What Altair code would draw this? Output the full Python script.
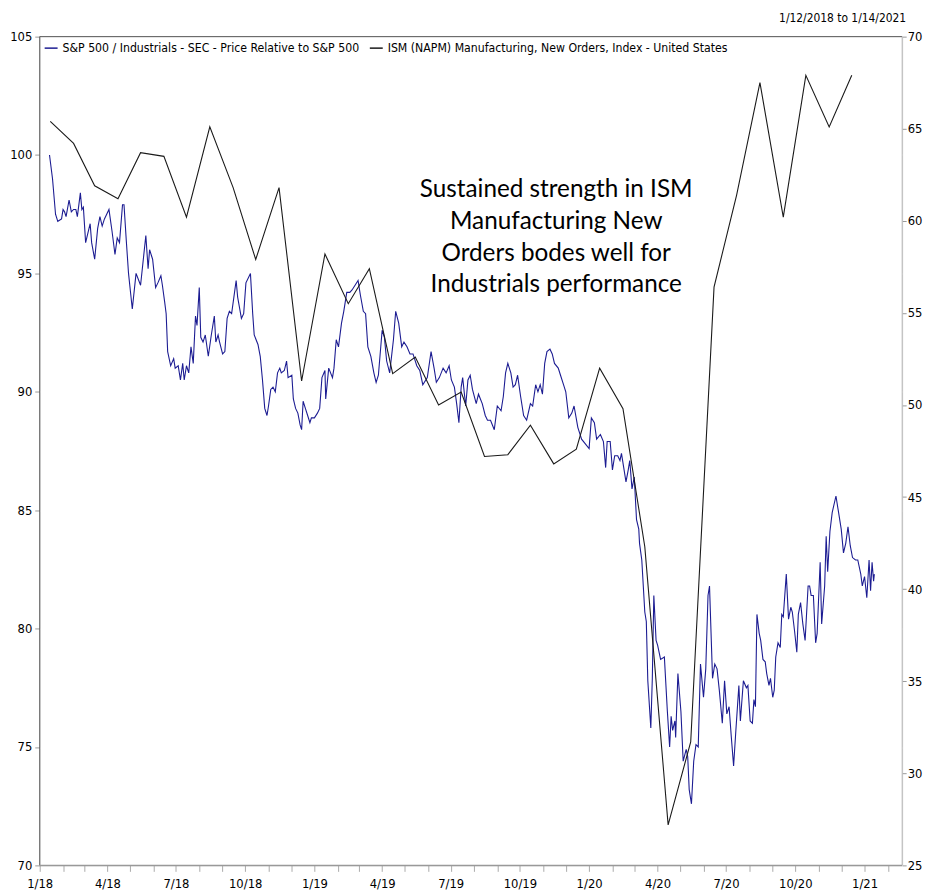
import altair as alt
import pandas as pd

IND = "S&P 500 / Industrials - SEC - Price Relative to S&P 500"
ISM = "ISM (NAPM) Manufacturing, New Orders, Index - United States"
NARROW = "Liberation Sans Narrow, Arial Narrow, DejaVu Sans Condensed, sans-serif"

# S&P 500 Industrials relative (day offset from 2018-01-01, value)
ind_points = [
    (13, 100.0), (17, 99.0), (21, 97.5), (24, 97.2), (29, 97.3), (31, 97.7), (33, 97.6), (35, 97.4),
    (39, 98.1), (42, 97.6), (45, 97.7), (48, 97.7), (50, 97.4), (54, 98.4), (56, 97.7), (58, 97.8),
    (61, 96.3), (64, 96.7), (67, 97.1), (69, 96.3), (73, 95.6), (77, 96.9), (80, 97.4), (83, 97.0),
    (86, 97.3), (89, 97.5), (92, 97.7), (96, 96.8), (100, 95.8), (103, 96.5), (106, 96.3), (110, 97.9),
    (112, 97.9), (115, 96.4), (118, 95.0), (121, 94.1), (123, 93.5), (128, 95.0), (134, 94.5), (141, 96.6),
    (144, 95.2), (146, 96.0), (150, 95.6), (154, 94.4), (157, 94.6), (161, 94.9), (163, 94.5), (166, 93.8),
    (168, 93.3), (170, 91.7), (174, 91.1), (178, 91.4), (180, 91.0), (184, 91.1), (187, 90.5), (190, 91.2),
    (192, 90.5), (195, 91.1), (198, 90.8), (201, 91.9), (204, 91.2), (207, 93.2), (209, 92.8), (212, 94.4),
    (214, 92.3), (217, 92.1), (220, 92.4), (224, 91.5), (228, 92.4), (232, 93.2), (234, 92.1), (237, 92.4),
    (239, 92.1), (243, 91.6), (246, 91.7), (249, 93.1), (252, 93.4), (255, 93.3), (258, 94.0), (261, 94.7),
    (263, 94.0), (268, 93.1), (271, 93.3), (274, 94.6), (280, 95.0), (283, 93.3), (285, 92.4), (290, 92.0),
    (293, 91.5), (296, 90.5), (299, 89.3), (302, 89.0), (304, 89.4), (307, 90.1), (310, 90.2), (313, 90.0),
    (316, 90.8), (319, 91.0), (321, 90.8), (325, 90.9), (328, 91.3), (330, 90.6), (335, 90.7), (337, 89.7),
    (340, 89.3), (343, 89.1), (346, 88.6), (348, 88.4), (350, 89.6), (353, 89.3), (356, 89.0), (359, 88.7),
    (361, 88.9), (365, 88.9), (369, 89.1), (372, 89.3), (375, 90.6), (379, 90.9), (380, 89.7), (384, 91.0),
    (389, 90.6), (391, 91.0), (394, 92.2), (397, 91.9), (401, 92.9), (404, 93.4), (408, 94.2), (412, 94.2),
    (415, 94.3), (419, 94.5), (423, 94.7), (426, 94.1), (430, 93.4), (433, 93.3), (436, 91.9), (440, 91.5),
    (444, 90.8), (447, 90.4), (450, 90.7), (455, 92.6), (458, 92.3), (461, 91.3), (465, 90.8), (470, 92.2),
    (473, 93.4), (477, 92.9), (481, 91.9), (484, 92.1), (488, 91.9), (492, 91.6), (496, 91.6), (501, 91.1),
    (505, 90.9), (509, 90.3), (515, 90.6), (520, 91.7), (524, 91.0), (527, 90.4), (531, 90.6), (536, 91.0),
    (540, 90.8), (544, 91.1), (547, 90.5), (551, 90.2), (554, 89.5), (557, 88.7), (560, 90.2), (562, 90.6),
    (566, 89.4), (569, 90.5), (572, 90.7), (575, 90.1), (580, 89.5), (583, 89.9), (588, 89.5), (592, 89.0),
    (595, 88.8), (599, 88.8), (604, 88.4), (608, 89.4), (613, 89.2), (616, 89.8), (619, 90.8), (622, 91.2),
    (626, 90.8), (629, 90.2), (632, 90.3), (635, 90.7), (639, 89.8), (643, 89.0), (647, 88.8), (652, 89.5),
    (655, 89.4), (659, 90.3), (662, 90.0), (665, 90.3), (668, 89.9), (671, 91.2), (674, 91.7), (678, 91.8),
    (681, 91.6), (684, 91.2), (689, 91.0), (692, 90.7), (696, 90.3), (699, 90.0), (703, 88.9), (707, 89.1),
    (710, 89.4), (715, 88.5), (720, 88.0), (725, 87.8), (730, 87.6), (733, 88.9), (737, 88.7), (740, 88.0),
    (745, 88.2), (749, 87.9), (752, 86.8), (754, 87.9), (758, 87.9), (761, 86.7), (764, 87.3), (768, 87.3),
    (771, 87.1), (773, 87.4), (776, 86.8), (779, 86.2), (782, 86.7), (784, 87.1), (787, 85.9), (790, 86.4),
    (793, 84.6), (796, 84.2), (797, 83.6), (800, 82.9), (804, 80.7), (806, 80.3), (808, 77.8), (812, 75.8),
    (814, 77.9), (816, 81.4), (819, 79.5), (821, 79.3), (825, 78.7), (830, 78.8), (834, 76.5), (837, 75.0),
    (839, 76.3), (841, 75.7), (844, 76.1), (845, 75.4), (848, 78.1), (852, 76.5), (855, 74.4), (859, 74.9),
    (861, 74.6), (863, 73.2), (866, 72.6), (869, 74.4), (872, 75.1), (875, 75.0), (878, 78.5), (882, 77.1),
    (885, 78.3), (888, 81.4), (890, 81.8), (894, 77.9), (897, 78.5), (900, 78.3), (903, 77.4), (907, 76.0),
    (910, 77.8), (913, 76.4), (916, 76.7), (919, 75.4), (922, 74.2), (925, 75.7), (929, 77.6), (931, 76.1),
    (935, 77.8), (939, 77.5), (941, 77.6), (944, 76.1), (947, 76.0), (949, 77.0), (951, 76.7), (953, 80.6),
    (956, 79.8), (958, 79.5), (961, 78.7), (964, 78.6), (966, 78.1), (969, 77.6), (971, 77.9), (974, 77.1),
    (976, 77.4), (978, 78.8), (981, 79.4), (984, 79.2), (986, 80.6), (988, 80.5), (992, 82.3), (995, 80.4),
    (998, 80.9), (1000, 80.7), (1003, 79.9), (1006, 79.0), (1008, 80.6), (1011, 81.1), (1014, 80.2), (1017, 79.5),
    (1021, 81.8), (1023, 81.8), (1025, 81.4), (1028, 81.4), (1031, 79.4), (1033, 79.8), (1037, 82.8), (1039, 80.2),
    (1043, 81.8), (1045, 83.9), (1047, 82.4), (1050, 84.1), (1053, 84.9), (1058, 85.6), (1061, 85.0), (1065, 84.2),
    (1068, 83.2), (1071, 83.6), (1074, 84.3), (1077, 83.5), (1080, 83.0), (1084, 82.9), (1087, 82.9), (1091, 82.3),
    (1093, 81.8), (1096, 82.2), (1099, 81.3), (1102, 82.9), (1104, 81.6), (1106, 82.8), (1108, 82.0), (1109, 82.3),
]

# ISM New Orders, monthly Jan 2018 .. Dec 2020
ism_values = [
    65.4, 64.2, 61.9, 61.2, 63.7, 63.5, 60.2, 65.1, 61.8, 57.9, 61.8, 51.3,
    58.2, 55.5, 57.4, 51.7, 52.6, 50.0, 50.7, 47.2, 47.3, 48.9, 46.8, 47.6,
    52.0, 49.8, 42.3, 27.2, 31.7, 56.4, 61.4, 67.5, 60.2, 67.9, 65.1, 67.9,
]

left_ticks = [70, 75, 80, 85, 90, 95, 100, 105]
right_ticks = [25, 30, 35, 40, 45, 50, 55, 60, 65, 70]
annotation = ["Sustained strength in ISM", "Manufacturing New", "Orders bodes well for", "Industrials performance"]
range_text = "1/12/2018 to 1/14/2021"

start = pd.Timestamp("2018-01-01")
ind_df = pd.DataFrame(ind_points, columns=["day", "value"])
ind_df["date"] = (start + pd.to_timedelta(ind_df["day"], unit="D")).dt.strftime("%Y-%m-%d")
ind_df["series"] = IND
ind_df = ind_df[["date", "value", "series"]]

ism_dates = (pd.date_range("2018-01-01", periods=len(ism_values), freq="MS") + pd.Timedelta(days=14)).strftime("%Y-%m-%d")
ism_df = pd.DataFrame({"date": ism_dates, "value": ism_values, "series": ISM})

W, H = 870, 836
AX_FS = 13

x_enc = alt.X(
    "date:T",
    scale=alt.Scale(type="utc", domain=[alt.DateTime(year=2018, month=1, date=1, utc=True),
                                        alt.DateTime(year=2021, month=2, date=20, utc=True)]),
    axis=alt.Axis(
        title=None, grid=False, domain=False,
        tickCount={"interval": "month", "step": 1},
        labelExpr="utcmonth(datum.value) % 3 == 0 ? utcFormat(datum.value, '%-m/%y') : ''",
        labelOverlap=False, labelFlush=False, labelFont=NARROW, labelFontSize=AX_FS,
        labelColor="black", tickColor="#aaa", tickSize=6, labelPadding=6,
    ),
)

color_enc = alt.Color(
    "series:N",
    scale=alt.Scale(domain=[IND, ISM], range=["#1c1c92", "#1a1a1a"]),
    legend=alt.Legend(
        orient="top-left", direction="horizontal", title=None, symbolType="stroke",
        symbolSize=170, symbolStrokeWidth=1.5, labelFont=NARROW, labelFontSize=12.3,
        labelColor="black", offset=4, padding=0, columnPadding=6, labelOffset=4, labelLimit=0,
    ),
)

ind_line = alt.Chart(ind_df).mark_line(strokeWidth=1.1, clip=True).encode(
    x=x_enc,
    y=alt.Y("value:Q",
            scale=alt.Scale(domain=[70, 105], nice=False, zero=False),
            axis=alt.Axis(orient="left", values=left_ticks, title=None, grid=True, gridColor="white",
                          gridWidth=1.5, domain=False, tickColor="#999", tickSize=5,
                          labelFont=NARROW, labelFontSize=AX_FS, labelColor="black", labelPadding=3)),
    color=color_enc,
)

ism_line = alt.Chart(ism_df).mark_line(strokeWidth=1.1, clip=True).encode(
    x=x_enc,
    y=alt.Y("value:Q",
            scale=alt.Scale(domain=[25, 70], nice=False, zero=False),
            axis=alt.Axis(orient="right", values=right_ticks, title=None, grid=False, domain=False,
                          tickColor="#999", tickSize=4, labelFont=NARROW, labelFontSize=AX_FS,
                          labelColor="black", labelPadding=1)),
    color=color_enc,
)

base = alt.Chart(pd.DataFrame({"k": [0]}))

border_top = base.mark_rule(color="#555", strokeWidth=1).encode(x=alt.value(0), x2=alt.value(W), y=alt.value(0))
border_left = base.mark_rule(color="#555", strokeWidth=1).encode(x=alt.value(0), y=alt.value(0), y2=alt.value(H))
border_right = base.mark_rule(color="#b5b5b5", strokeWidth=1).encode(x=alt.value(W), y=alt.value(0), y2=alt.value(H))
border_bottom = base.mark_rule(color="#999", strokeWidth=1.5).encode(x=alt.value(0), x2=alt.value(W), y=alt.value(H))

note = base.mark_text(font="Lato", fontSize=24.5, lineHeight=32, align="center", baseline="top",
                      color="black").encode(x=alt.value(521), y=alt.value(143), text=alt.value(annotation))

rng = base.mark_text(font=NARROW, fontSize=12, align="right", baseline="middle",
                     color="black").encode(x=alt.value(W + 4), y=alt.value(-19), text=alt.value(range_text))

chart = alt.layer(
    ind_line, ism_line, border_top, border_left, border_right, border_bottom, note, rng
).resolve_scale(y="independent").properties(
    width=W, height=H, autosize="none",
    padding={"left": 32, "top": 25, "right": 21, "bottom": 27},
).configure_view(fill="#f0f0f0", stroke=None).configure(background="white")

chart.save("out.html", embed_options={"renderer": "svg", "actions": False})
